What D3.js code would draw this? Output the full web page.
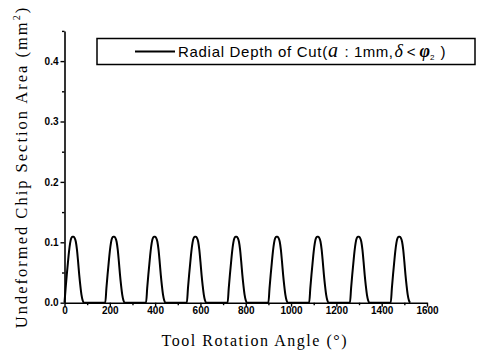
<!DOCTYPE html>
<html><head><meta charset="utf-8">
<script src="https://cdn.jsdelivr.net/npm/d3@7"></script>
<style>html,body{margin:0;padding:0;background:#fff}svg{display:block}</style>
</head><body><div id="chart"></div>
<script>
// ---- data ----
const angles = [
  0,5,10,15,20,25,30,35,40,45,50,55,60,65,70,75,80,85,
  180,185,190,195,200,205,210,215,220,225,230,235,240,245,250,255,260,265,
  360,365,370,375,380,385,390,395,400,405,410,415,420,425,430,435,440,445,
  540,545,550,555,560,565,570,575,580,585,590,595,600,605,610,615,620,625,
  720,725,730,735,740,745,750,755,760,765,770,775,780,785,790,795,800,805,
  900,905,910,915,920,925,930,935,940,945,950,955,960,965,970,975,980,985,
  1080,1085,1090,1095,1100,1105,1110,1115,1120,1125,1130,1135,1140,1145,1150,1155,1160,1165,
  1260,1265,1270,1275,1280,1285,1290,1295,1300,1305,1310,1315,1320,1325,1330,1335,1340,1345,
  1440,1445,1450,1455,1460,1465,1470,1475,1480,1485,1490,1495,1500,1505,1510,1515,1520,1525
];
const chipArea = [
  0,0.024,0.046,0.066,0.085,0.099,0.107,0.109,0.109,0.107,0.101,0.088,0.068,0.046,0.028,0.013,0.004,0,
  0,0.024,0.046,0.066,0.085,0.099,0.107,0.109,0.109,0.107,0.101,0.088,0.068,0.046,0.028,0.013,0.004,0,
  0,0.024,0.046,0.066,0.085,0.099,0.107,0.109,0.109,0.107,0.101,0.088,0.068,0.046,0.028,0.013,0.004,0,
  0,0.024,0.046,0.066,0.085,0.099,0.107,0.109,0.109,0.107,0.101,0.088,0.068,0.046,0.028,0.013,0.004,0,
  0,0.024,0.046,0.066,0.085,0.099,0.107,0.109,0.109,0.107,0.101,0.088,0.068,0.046,0.028,0.013,0.004,0,
  0,0.024,0.046,0.066,0.085,0.099,0.107,0.109,0.109,0.107,0.101,0.088,0.068,0.046,0.028,0.013,0.004,0,
  0,0.024,0.046,0.066,0.085,0.099,0.107,0.109,0.109,0.107,0.101,0.088,0.068,0.046,0.028,0.013,0.004,0,
  0,0.024,0.046,0.066,0.085,0.099,0.107,0.109,0.109,0.107,0.101,0.088,0.068,0.046,0.028,0.013,0.004,0,
  0,0.024,0.046,0.066,0.085,0.099,0.107,0.109,0.109,0.107,0.101,0.088,0.068,0.046,0.028,0.013,0.004,0
];
const xTicks = [0,200,400,600,800,1000,1200,1400,1600];
const xMinorTicks = [100,300,500,700,900,1100,1300,1500];
const yTicks = [0.0,0.1,0.2,0.3,0.4];
const yMinorTicks = [0.05,0.15,0.25,0.35,0.45];
const xLabel = "Tool Rotation Angle (°)";
const yLabel = "Undeformed Chip Section Area (mm";
const legendLabel = "Radial Depth of Cut(";

// ---- layout ----
const W = 480, H = 351;
const svg = d3.select("#chart").append("svg").attr("width", W).attr("height", H);
const x = d3.scaleLinear().domain([0,1600]).range([64.5,427]);
const y = d3.scaleLinear().domain([0,0.45]).range([302.7,30.9]);

const tickFont = "'Liberation Sans', Arial, sans-serif";

// x axis
const gx = svg.append("g").attr("transform", `translate(0,${y(0)})`);
gx.call(d3.axisBottom(x).tickValues(xTicks).tickFormat(d3.format("d")).tickSize(4).tickSizeOuter(0));
gx.append("g").call(d3.axisBottom(x).tickValues(xMinorTicks).tickFormat("").tickSize(2.5).tickSizeOuter(0))
  .select(".domain").remove();
gx.selectAll("path.domain").attr("stroke","#000").attr("stroke-width",1.6);
gx.selectAll(".tick line").attr("stroke","#000").attr("stroke-width",1.4);
gx.selectAll(".tick text").attr("font-family",tickFont).attr("font-weight","bold")
  .attr("font-size",10).attr("fill","#000").attr("dy","0.55em").attr("y",6);

// y axis
const gy = svg.append("g").attr("transform", `translate(${x(0)},0)`);
gy.call(d3.axisLeft(y).tickValues(yTicks).tickFormat(d3.format(".1f")).tickSize(4).tickSizeOuter(0));
gy.append("g").call(d3.axisLeft(y).tickValues(yMinorTicks).tickFormat("").tickSize(2.5).tickSizeOuter(0))
  .select(".domain").remove();
gy.selectAll("path.domain").attr("stroke","#000").attr("stroke-width",1.6);
gy.selectAll(".tick line").attr("stroke","#000").attr("stroke-width",1.4);
gy.selectAll(".tick text").attr("font-family",tickFont).attr("font-weight","bold")
  .attr("font-size",10).attr("fill","#000").attr("x",-6);

// line
const pts = angles.map((a,i)=>[a, chipArea[i]]);
svg.append("path").datum(pts)
  .attr("fill","none").attr("stroke","#000").attr("stroke-width",2).attr("stroke-linejoin","round")
  .attr("d", d3.line().x(d=>x(d[0])).y(d=>y(d[1])).curve(d3.curveMonotoneX));

// axis labels
svg.append("text").attr("x",254).attr("y",346).attr("text-anchor","middle")
  .attr("font-family","'Liberation Serif', 'Times New Roman', serif").attr("font-size",16)
  .attr("textLength",185).attr("lengthAdjust","spacing").text(xLabel);

const yl = svg.append("text").attr("transform","translate(27,167) rotate(-90)").attr("text-anchor","middle")
  .attr("font-family","'Liberation Serif', 'Times New Roman', serif").attr("font-size",16.5)
  .attr("letter-spacing",2);
yl.append("tspan").text(yLabel);
yl.append("tspan").attr("font-size",10).attr("dy",-7).text("2");
yl.append("tspan").attr("dy",7).text(")");

// legend
svg.append("rect").attr("x",97).attr("y",38.5).attr("width",378).attr("height",26)
  .attr("fill","#fff").attr("stroke","#000").attr("stroke-width",1.5);
svg.append("line").attr("x1",135).attr("x2",175).attr("y1",51.5).attr("y2",51.5)
  .attr("stroke","#000").attr("stroke-width",2);
const lt = svg.append("text").attr("x",178).attr("y",57).attr("font-family",tickFont).attr("font-size",15);
lt.append("tspan").attr("letter-spacing",0.7).text(legendLabel);
lt.append("tspan").attr("font-family","'Liberation Serif', serif").attr("font-style","italic").attr("font-size",20).text("a");
lt.append("tspan").attr("dx",2).attr("letter-spacing",0.5).text(" : 1mm,");
lt.append("tspan").attr("dx",1).attr("font-family","'Liberation Serif', serif").attr("font-style","italic").attr("font-size",18).text("δ");
lt.append("tspan").attr("dx",4).text("<");
lt.append("tspan").attr("dx",4).attr("font-family","'Liberation Serif', serif").attr("font-style","italic").attr("font-weight","bold").attr("font-size",18).text("φ");
lt.append("tspan").attr("font-size",8).attr("dy",3).text("2");
lt.append("tspan").attr("dy",-3).attr("dx",6).text(")");
</script></body></html>
